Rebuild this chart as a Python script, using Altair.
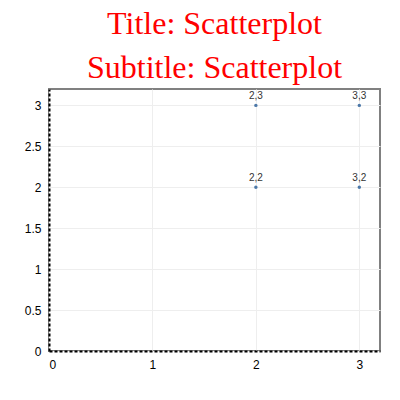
import altair as alt
import pandas as pd

xs = [2, 2, 3, 3]
ys = [2, 3, 2, 3]
labels = ["2,2", "2,3", "3,2", "3,3"]

df = pd.DataFrame({"x": xs, "y": ys, "label": labels})

common = dict(ticks=False, domainColor="black", domainDash=[3, 2], domainWidth=2,
              gridColor="#eeeeee", labelFont="Liberation Sans", labelFontSize=12,
              labelColor="black", labelPadding=8, format="~g", title=None)
axis_x = alt.Axis(values=[0, 1, 2, 3], **common)
axis_y = alt.Axis(values=[0, 0.5, 1, 1.5, 2, 2.5, 3], **common)

base = alt.Chart(df).encode(
    x=alt.X("x:Q", scale=alt.Scale(domain=[0, 3.2], nice=False), axis=axis_x),
    y=alt.Y("y:Q", scale=alt.Scale(domain=[0, 3.2], nice=False), axis=axis_y),
)
points = base.mark_circle(size=12, opacity=1, color="#4c78a8")
text = base.mark_text(dy=-9, fontSize=10, font="Liberation Sans", color="#333").encode(text="label:N")

chart = (points + text).properties(
    width=331, height=262,
    padding={"left": 16, "top": 0, "right": 5, "bottom": 5},
    title=alt.TitleParams("Title: Scatterplot", subtitle="Subtitle: Scatterplot",
                          font="Liberation Serif", fontSize=32, fontWeight="normal",
                          color="red", subtitleFont="Liberation Serif", subtitleFontSize=32,
                          subtitleColor="red", anchor="middle", offset=4, subtitlePadding=12),
).configure_view(stroke="grey", strokeWidth=2)

chart.save("out.html", embed_options={"renderer": "svg", "actions": False})
